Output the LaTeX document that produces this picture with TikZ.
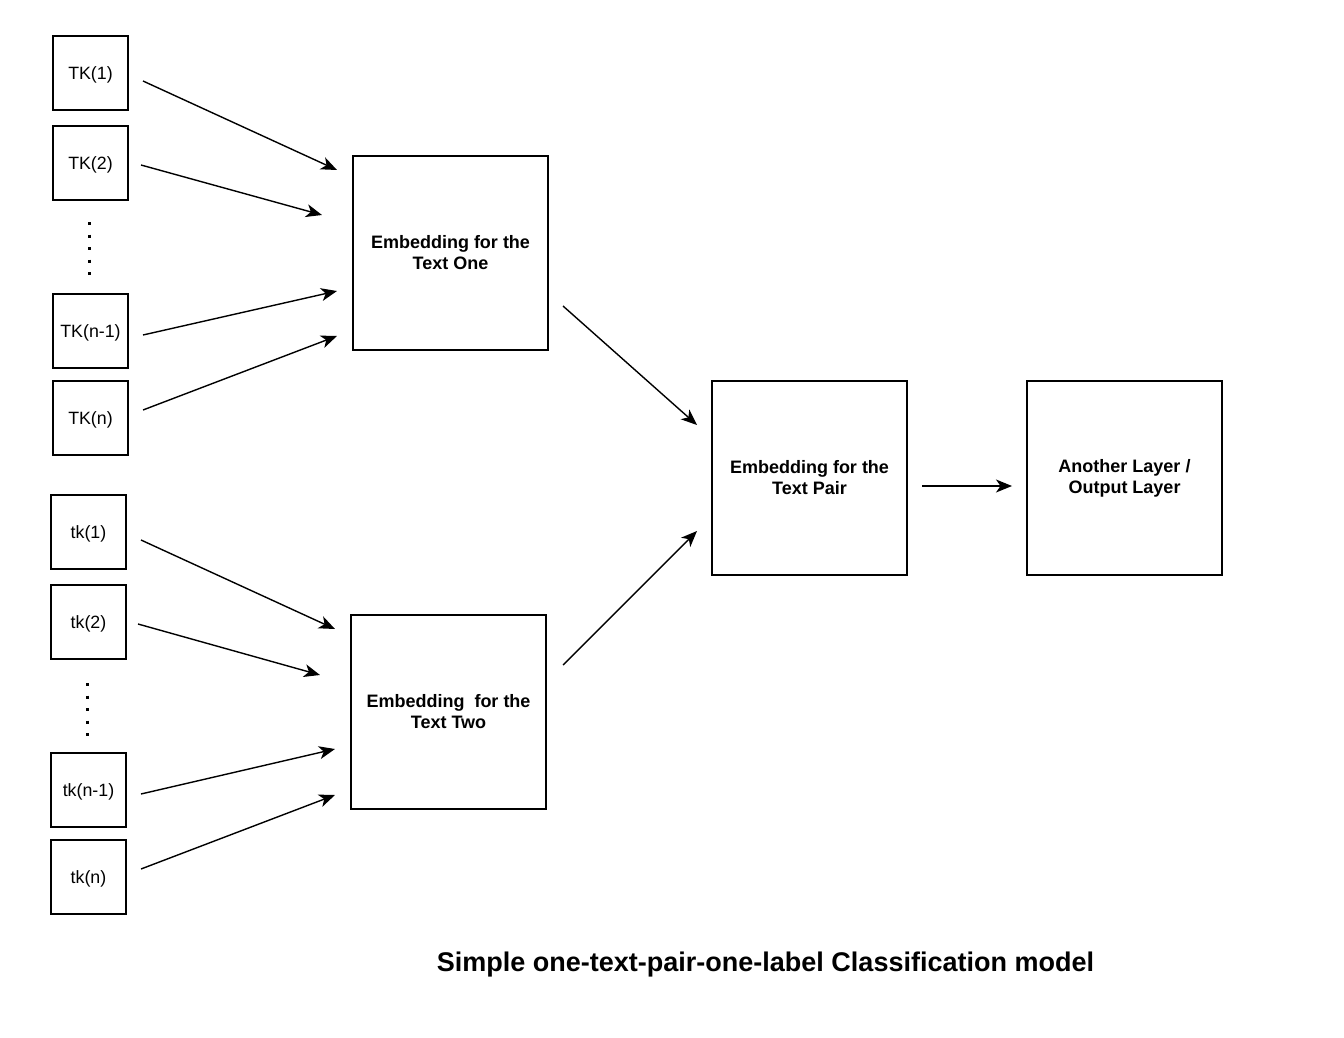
\documentclass[tikz,border=0pt]{standalone}
\usepackage{fontspec}
\setmainfont{Liberation Sans}
\usetikzlibrary{arrows.meta}
\begin{document}
\begin{tikzpicture}[x=1pt,y=-1pt,
  tok/.style={draw,line width=1.4pt,minimum width=75pt,minimum height=74pt,inner sep=0pt,text depth=0pt,font=\fontsize{17.8}{21}\selectfont},
  emb/.style={draw,line width=1.4pt,minimum width=195pt,minimum height=194pt,inner sep=0pt,align=center,font=\fontsize{18}{21}\selectfont\bfseries},
  arr/.style={line width=1.4pt,-{Stealth[length=16pt,width=13pt,inset=4.5pt]}},
  dotline/.style={line width=3pt,dash pattern=on 3pt off 9.5pt}]
\useasboundingbox (0,0) rectangle (1344,1038);
% token boxes, text one
\node[tok] (T1) at (90.5,73) {TK(1)};
\node[tok] (T2) at (90.5,163) {TK(2)};
\node[tok] (Tn1) at (90.5,331) {TK(n-1)};
\node[tok] (Tn) at (90.5,418) {TK(n)};
% token boxes, text two
\node[tok] (t1) at (88.5,532) {tk(1)};
\node[tok] (t2) at (88.5,622) {tk(2)};
\node[tok] (tn1) at (88.5,790) {tk(n-1)};
\node[tok] (tn) at (88.5,877) {tk(n)};
% dots
\draw[dotline] (89,222) -- (89,276);
\draw[dotline] (87,683) -- (87,737);
% embeddings
\node[emb] (E1) at (450.5,253) {Embedding for the\\Text One};
\node[emb] (E2) at (448.5,712) {Embedding\ \ for the\\Text Two};
\node[emb] (EP) at (809.5,478) {Embedding for the\\Text Pair};
\node[emb] (OL) at (1124.5,478) {Another Layer /\\Output Layer};
% title
\node[font=\fontsize{27}{30}\selectfont\bfseries] (title) at (765.5,965) {Simple one-text-pair-one-label Classification model};
% arrow endpoints
\coordinate (aT1) at (143,81);   \coordinate (bT1) at (337,170);
\coordinate (aT2) at (141,165);  \coordinate (bT2) at (322,215);
\coordinate (aTn1) at (143,335); \coordinate (bTn1) at (337,291);
\coordinate (aTn) at (143,410);  \coordinate (bTn) at (337,336);
\coordinate (at1) at (141,540);  \coordinate (bt1) at (335,629);
\coordinate (at2) at (138,624);  \coordinate (bt2) at (320,675);
\coordinate (atn1) at (141,794); \coordinate (btn1) at (335,749);
\coordinate (atn) at (141,869);  \coordinate (btn) at (335,795);
\coordinate (aE1) at (563,306);  \coordinate (bE1) at (697,425);
\coordinate (aE2) at (563,665);  \coordinate (bE2) at (697,531);
\coordinate (aEP) at (922,486);  \coordinate (bEP) at (1012,486);
\draw[arr] (aT1) -- (bT1);
\draw[arr] (aT2) -- (bT2);
\draw[arr] (aTn1) -- (bTn1);
\draw[arr] (aTn) -- (bTn);
\draw[arr] (at1) -- (bt1);
\draw[arr] (at2) -- (bt2);
\draw[arr] (atn1) -- (btn1);
\draw[arr] (atn) -- (btn);
\draw[arr] (aE1) -- (bE1);
\draw[arr] (aE2) -- (bE2);
\draw[arr] (aEP) -- (bEP);
\end{tikzpicture}
\end{document}
